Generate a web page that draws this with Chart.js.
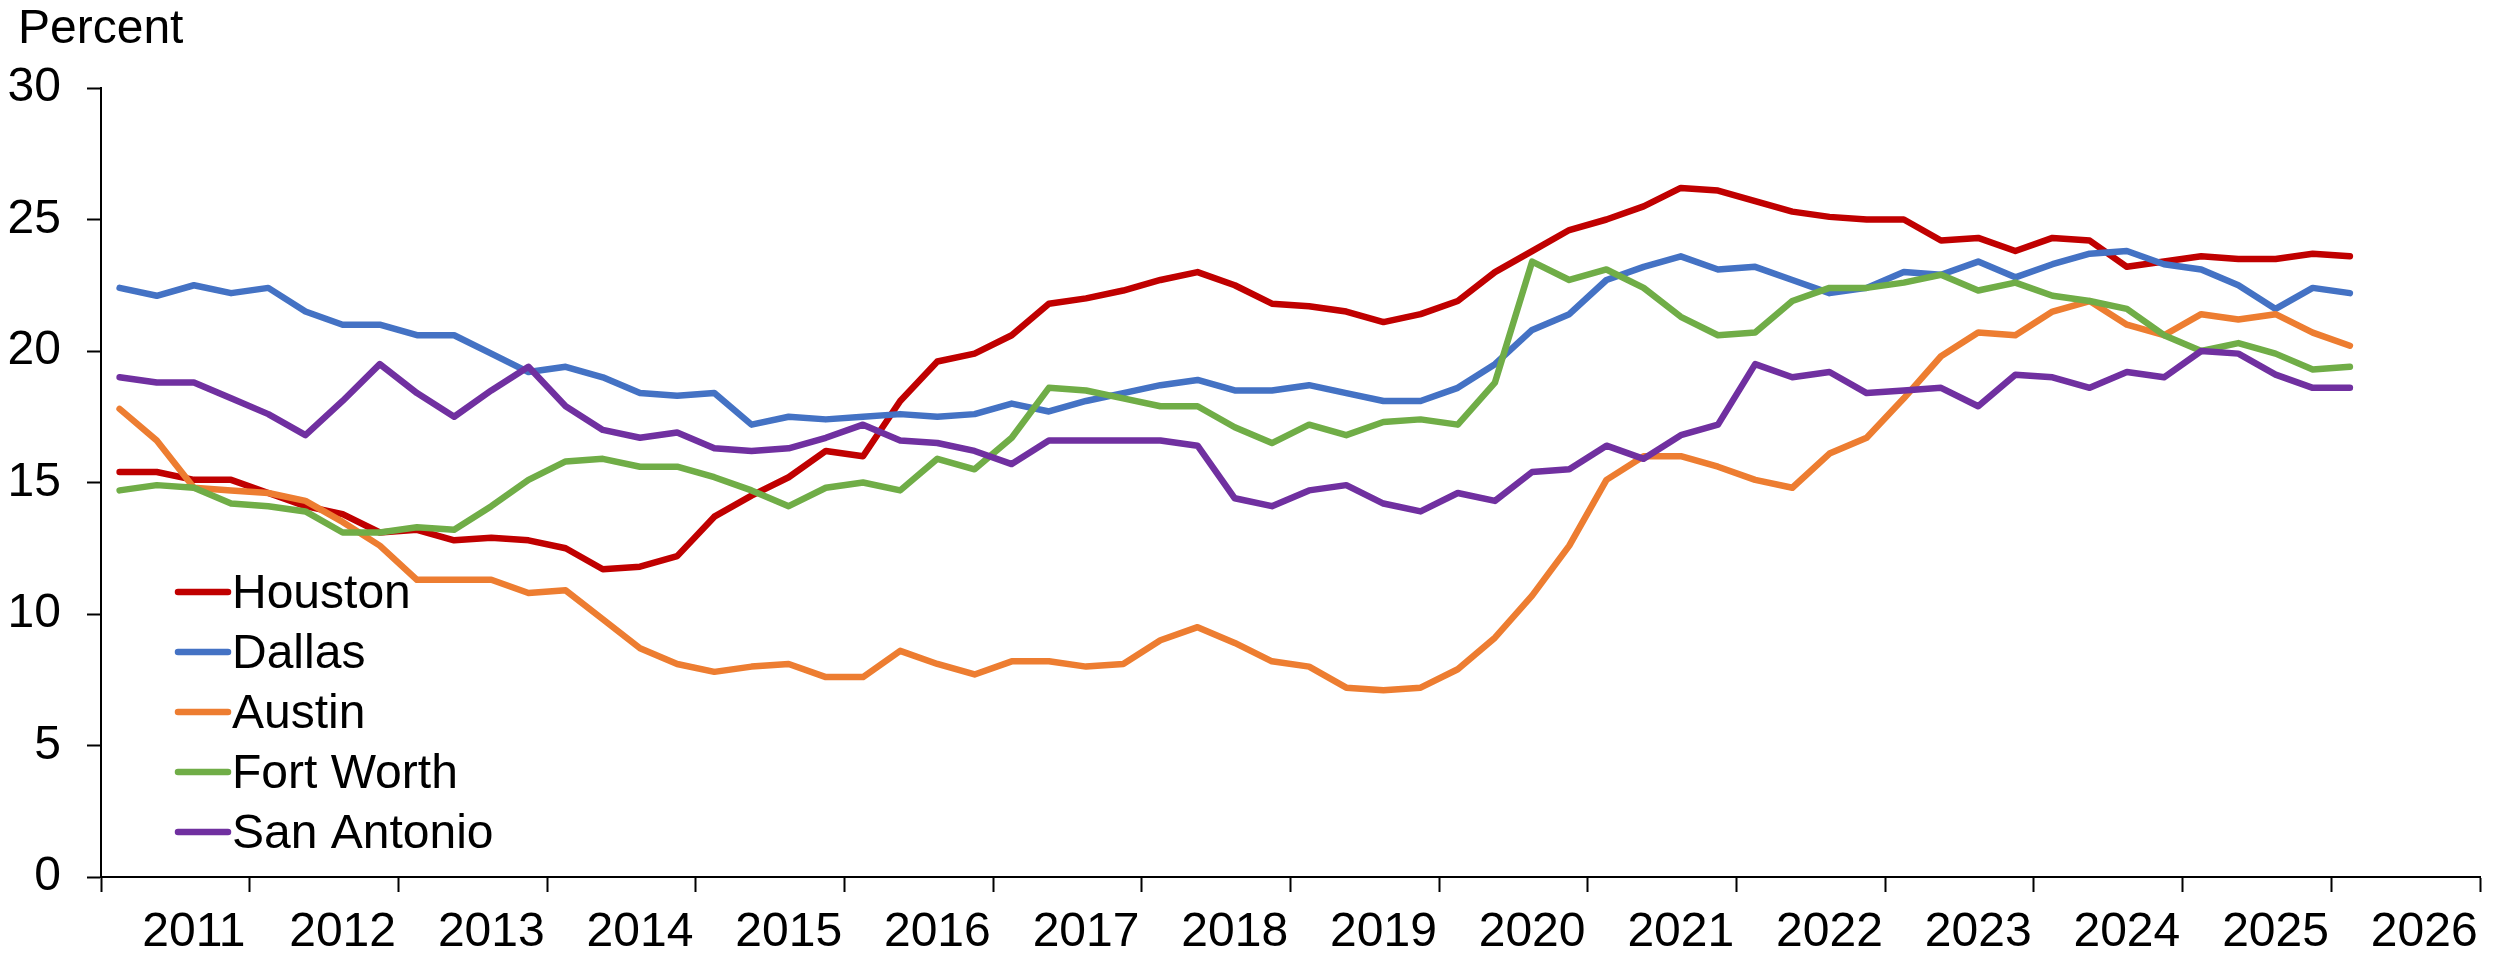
<!DOCTYPE html>
<html>
<head>
<meta charset="utf-8">
<script src="https://cdn.jsdelivr.net/npm/chart.js@4.4.1/dist/chart.umd.min.js"></script>
<style>
  html, body { margin: 0; padding: 0; background: #fff; }
  canvas { display: block; }
</style>
</head>
<body>
<canvas id="chart" width="2509" height="957"></canvas>
<script>
// year labels on the x axis, four quarters each
const years = [2011, 2012, 2013, 2014, 2015, 2016, 2017, 2018, 2019, 2020, 2021, 2022, 2023, 2024, 2025, 2026];
const quarters = [];
years.forEach(y => { for (let q = 1; q <= 4; q++) quarters.push(y + ' Q' + q); });

// percent, quarterly
const houston = [15.4, 15.4, 15.1, 15.1, 14.6, 14.1, 13.8, 13.1, 13.2, 12.8,
  12.9, 12.8, 12.5, 11.7, 11.8, 12.2, 13.7, 14.5, 15.2, 16.2,
  16.0, 18.1, 19.6, 19.9, 20.6, 21.8, 22.0, 22.3, 22.7, 23.0,
  22.5, 21.8, 21.7, 21.5, 21.1, 21.4, 21.9, 23.0, 23.8, 24.6,
  25.0, 25.5, 26.2, 26.1, 25.7, 25.3, 25.1, 25.0, 25.0, 24.2,
  24.3, 23.8, 24.3, 24.2, 23.2, 23.4, 23.6, 23.5, 23.5, 23.7, 23.6];
const dallas = [22.4, 22.1, 22.5, 22.2, 22.4, 21.5, 21.0, 21.0, 20.6, 20.6,
  19.9, 19.2, 19.4, 19.0, 18.4, 18.3, 18.4, 17.2, 17.5, 17.4,
  17.5, 17.6, 17.5, 17.6, 18.0, 17.7, 18.1, 18.4, 18.7, 18.9,
  18.5, 18.5, 18.7, 18.4, 18.1, 18.1, 18.6, 19.5, 20.8, 21.4,
  22.7, 23.2, 23.6, 23.1, 23.2, 22.7, 22.2, 22.4, 23.0, 22.9,
  23.4, 22.8, 23.3, 23.7, 23.8, 23.3, 23.1, 22.5, 21.6, 22.4, 22.2];
const austin = [17.8, 16.6, 14.8, 14.7, 14.6, 14.3, 13.5, 12.6, 11.3, 11.3,
  11.3, 10.8, 10.9, 9.8, 8.7, 8.1, 7.8, 8.0, 8.1, 7.6,
  7.6, 8.6, 8.1, 7.7, 8.2, 8.2, 8.0, 8.1, 9.0, 9.5,
  8.9, 8.2, 8.0, 7.2, 7.1, 7.2, 7.9, 9.1, 10.7, 12.6,
  15.1, 16.0, 16.0, 15.6, 15.1, 14.8, 16.1, 16.7, 18.2, 19.8,
  20.7, 20.6, 21.5, 21.9, 21.0, 20.6, 21.4, 21.2, 21.4, 20.7, 20.2];
const fortWorth = [14.7, 14.9, 14.8, 14.2, 14.1, 13.9, 13.1, 13.1, 13.3, 13.2,
  14.1, 15.1, 15.8, 15.9, 15.6, 15.6, 15.2, 14.7, 14.1, 14.8,
  15.0, 14.7, 15.9, 15.5, 16.7, 18.6, 18.5, 18.2, 17.9, 17.9,
  17.1, 16.5, 17.2, 16.8, 17.3, 17.4, 17.2, 18.8, 23.4, 22.7,
  23.1, 22.4, 21.3, 20.6, 20.7, 21.9, 22.4, 22.4, 22.6, 22.9,
  22.3, 22.6, 22.1, 21.9, 21.6, 20.6, 20.0, 20.3, 19.9, 19.3, 19.4];
const sanAntonio = [19.0, 18.8, 18.8, 18.2, 17.6, 16.8, 18.1, 19.5, 18.4, 17.5,
  18.5, 19.4, 17.9, 17.0, 16.7, 16.9, 16.3, 16.2, 16.3, 16.7,
  17.2, 16.6, 16.5, 16.2, 15.7, 16.6, 16.6, 16.6, 16.6, 16.4,
  14.4, 14.1, 14.7, 14.9, 14.2, 13.9, 14.6, 14.3, 15.4, 15.5,
  16.4, 15.9, 16.8, 17.2, 19.5, 19.0, 19.2, 18.4, 18.5, 18.6,
  17.9, 19.1, 19.0, 18.6, 19.2, 19.0, 20.0, 19.9, 19.1, 18.6, 18.6];

const FONT = '"Liberation Sans", Arial, sans-serif';

// "Percent" label and the legend inside the plot
const insideLegend = {
  id: 'insideLegend',
  afterDraw(chart) {
    const c = chart.ctx;
    c.save();
    c.font = '48px ' + FONT;
    c.fillStyle = '#000';
    c.textBaseline = 'alphabetic';
    c.fillText('Percent', 18, 43);
    chart.data.datasets.forEach((ds, i) => {
      const y = 592 + i * 60;
      c.strokeStyle = ds.borderColor;
      c.lineWidth = 6.5;
      c.lineCap = 'round';
      c.beginPath();
      c.moveTo(178, y);
      c.lineTo(228, y);
      c.stroke();
      c.fillText(ds.label, 232, y + 16);
    });
    c.restore();
  }
};

const ctx = document.getElementById('chart').getContext('2d');

new Chart(ctx, {
  type: 'line',
  data: {
    labels: quarters,
    datasets: [
      { label: 'Houston', data: houston, borderColor: '#C00000', order: 5 },
      { label: 'Dallas', data: dallas, borderColor: '#4472C4', order: 4 },
      { label: 'Austin', data: austin, borderColor: '#ED7D31', order: 3 },
      { label: 'Fort Worth', data: fortWorth, borderColor: '#70AD47', order: 2 },
      { label: 'San Antonio', data: sanAntonio, borderColor: '#7030A0', order: 1 }
    ]
  },
  options: {
    responsive: false,
    animation: false,
    layout: { padding: { top: 88, right: 29, left: 0, bottom: 0 } },
    elements: {
      point: { radius: 0 },
      line: { borderWidth: 6.5, tension: 0, fill: false, borderCapStyle: 'round', borderJoinStyle: 'round' }
    },
    plugins: {
      legend: { display: false },
      tooltip: { enabled: false }
    },
    scales: {
      x: {
        offset: true,
        grid: {
          offset: true,
          drawOnChartArea: false,
          drawTicks: true,
          tickLength: 15,
          tickWidth: 2,
          tickColor: c => (c.index === undefined || c.index % 4 === 0) ? '#000' : 'rgba(0,0,0,0)'
        },
        border: { display: true, color: '#000', width: 2 },
        ticks: {
          autoSkip: false,
          maxRotation: 0,
          minRotation: 0,
          padding: 12,
          color: '#000',
          font: { family: FONT, size: 48 },
          callback: (v, i) => (i % 4 === 2 ? String(years[Math.floor(i / 4)]) : '')
        },
        afterFit: s => { s.height = 80; }
      },
      y: {
        min: 0,
        max: 30,
        ticks: { stepSize: 5, padding: 26, color: '#000', font: { family: FONT, size: 48 } },
        grid: { drawOnChartArea: false, tickLength: 14, tickWidth: 2, tickColor: '#000' },
        border: { display: true, color: '#000', width: 2 },
        afterFit: s => { s.width = 101; }
      }
    }
  },
  plugins: [insideLegend]
});
</script>
</body>
</html>
